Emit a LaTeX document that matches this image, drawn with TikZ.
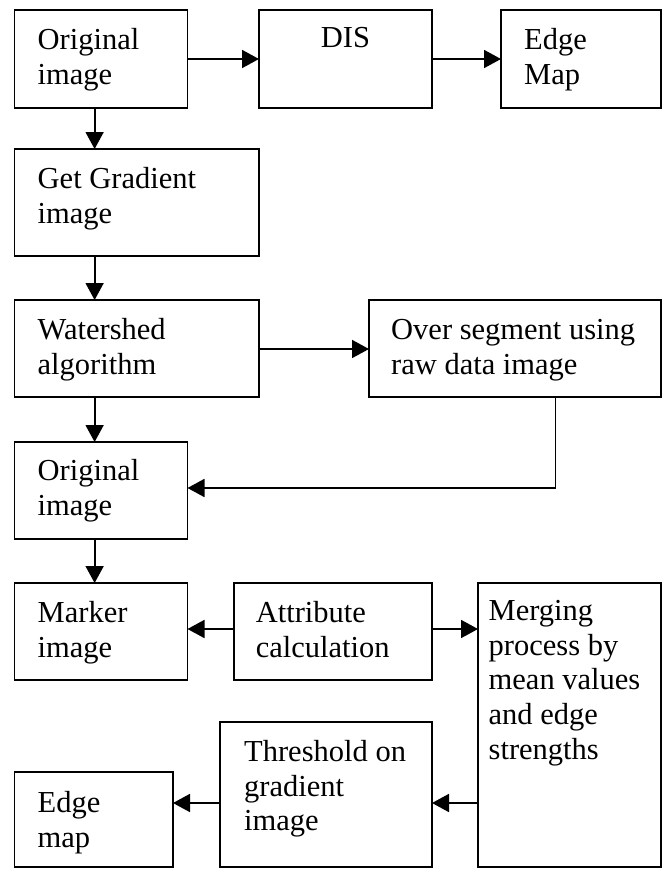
\documentclass[tikz,border=0pt]{standalone}
\usepackage{fontspec}
\setmainfont{Liberation Serif}
\usetikzlibrary{arrows.meta}
\tikzset{
  box/.style={draw, line width=1.8pt, inner sep=0pt, outer sep=0pt, anchor=north west},
  txt/.style={anchor=north west, align=left, inner sep=0pt, xshift=23pt, yshift=-15.2pt,
    font=\fontsize{30.5pt}{34.6pt}\selectfont},
  arr/.style={-{Triangle[length=17pt,width=18pt]}, line width=1.8pt},
}
\begin{document}
\begin{tikzpicture}[x=1pt,y=-1pt]
\useasboundingbox (0,0) rectangle (665,870);
\node[box, minimum width=173pt, minimum height=98pt,
  label={[txt]north west:{\strut Original\\image}}] (orig1) at (14.5,10) {};
\node[box, minimum width=173pt, minimum height=98pt,
  label={[anchor=north, inner sep=0pt, yshift=-13.2pt, font=\fontsize{30.5pt}{34.6pt}\selectfont]north:{\strut DIS}}] (dis) at (259,10) {};
\node[box, minimum width=160pt, minimum height=98pt,
  label={[txt]north west:{\strut Edge\\Map}}] (emap) at (501,10) {};
\node[box, minimum width=244.5pt, minimum height=107pt,
  label={[txt]north west:{\strut Get Gradient\\image}}] (grad) at (14.5,149) {};
\node[box, minimum width=244.5pt, minimum height=97pt,
  label={[txt]north west:{\strut Watershed\\algorithm}}] (water) at (14.5,300) {};
\node[box, minimum width=292pt, minimum height=97pt,
  label={[txt, xshift=-1pt]north west:{\strut Over segment using\\raw data image}}] (over) at (369,300) {};
\node[box, minimum width=173pt, minimum height=97pt,
  label={[txt, yshift=1pt]north west:{\strut Original\\image}}] (orig2) at (14.5,442) {};
\node[box, minimum width=173pt, minimum height=97pt,
  label={[txt]north west:{\strut Marker\\image}}] (marker) at (14.5,583) {};
\node[box, minimum width=198.4pt, minimum height=97pt,
  label={[txt, xshift=-1pt]north west:{\strut Attribute\\calculation}}] (attr) at (233.6,583) {};
\node[box, minimum width=183pt, minimum height=284pt,
  label={[txt, xshift=-12.5pt, yshift=2pt]north west:{\strut Merging\\process by\\mean values\\and edge\\strengths}}] (merge) at (478,583) {};
\node[box, minimum width=212pt, minimum height=145pt,
  label={[txt, xshift=1pt]north west:{\strut Threshold on\\gradient\\image}}] (thr) at (220,722) {};
\node[box, minimum width=158.5pt, minimum height=95pt,
  label={[txt, yshift=-1pt]north west:{\strut Edge\\map}}] (edge) at (14.5,772) {};
\coordinate (vx) at (94.6,0);
\coordinate (y1) at (0,59);
\coordinate (y2) at (0,349);
\coordinate (fb) at (555.5,488);
\coordinate (y3) at (0,629);
\coordinate (y4) at (0,803);
\draw[arr] (orig1.east |- y1) -- (dis.west |- y1);
\draw[arr] (dis.east |- y1) -- (emap.west |- y1);
\draw[arr] (orig1.south -| vx) -- (grad.north -| vx);
\draw[arr] (grad.south -| vx) -- (water.north -| vx);
\draw[arr] (water.east |- y2) -- (over.west |- y2);
\draw[arr] (water.south -| vx) -- (orig2.north -| vx);
\draw[arr] (over.south -| fb) |- (orig2.east |- fb);
\draw[arr] (orig2.south -| vx) -- (marker.north -| vx);
\draw[arr] (attr.west |- y3) -- (marker.east |- y3);
\draw[arr] (attr.east |- y3) -- (merge.west |- y3);
\draw[arr] (merge.west |- y4) -- (thr.east |- y4);
\draw[arr] (thr.west |- y4) -- (edge.east |- y4);
\end{tikzpicture}
\end{document}
